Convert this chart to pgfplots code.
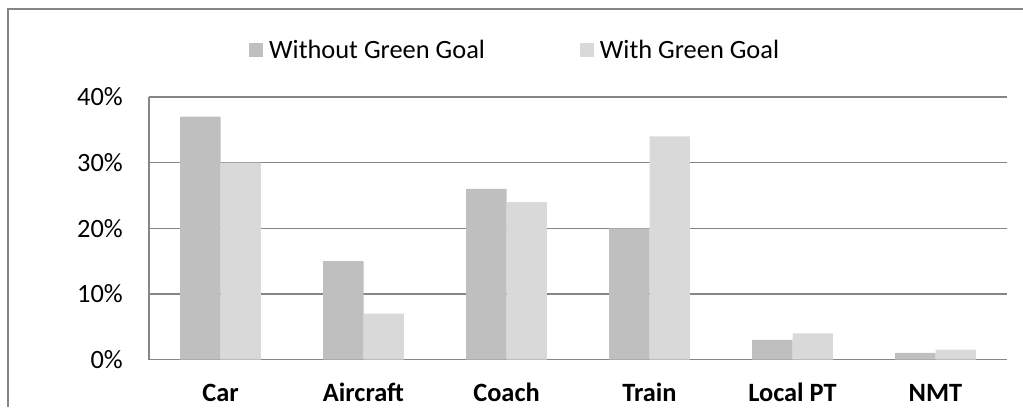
\documentclass[border=0pt]{standalone}
\usepackage{fontspec}
\setmainfont{Carlito}
\usepackage{pgfplots}
\pgfplotsset{compat=1.18}
\definecolor{barDark}{HTML}{BFBFBF}
\definecolor{barLight}{HTML}{D9D9D9}
\definecolor{gridGray}{HTML}{868686}

\begin{document}
\begin{tikzpicture}
\begin{axis}[
  scale only axis, width=858bp, height=262.5bp,
  xmin=-0.5, xmax=5.5, ymin=0, ymax=40,
  ybar, bar width=0.283,
  xtick={0,...,5}, xticklabels={Car,Aircraft,Coach,Train,Local PT,NMT},
  ytick={0,10,20,30,40}, yticklabels={0\%,10\%,20\%,30\%,40\%},
  major tick length=0pt,
  axis x line=bottom, axis y line=left,
  axis line style={-, draw=gridGray, line width=1.5bp},
  ymajorgrids, grid style={draw=gridGray, line width=1.5bp},
  tick label style={font=\fontsize{26.4bp}{30bp}\selectfont, text=black},
  xticklabel style={font=\fontsize{26.4bp}{30bp}\selectfont\bfseries, anchor=base, inner sep=0pt, yshift=-42bp},
  yticklabel style={anchor=east, inner sep=0pt, xshift=-26bp},
  legend columns=2,
  legend style={draw=none, fill=none, inner sep=0pt,
    at={(axis description cs:0.1166,1.179)}, anchor=west,
    font=\fontsize{26.4bp}{30bp}\selectfont,
    /tikz/every even column/.append style={column sep=93bp}},
  legend image code/.code={\fill[#1] (0bp,-7bp) rectangle (14bp,7bp); \path (18bp,0bp);},
]
% share of travel by mode, without and with the Green Goal programme
\addplot[fill=barDark, draw=none, bar shift=-0.1415]
  coordinates {(0,37) (1,15) (2,26) (3,20) (4,3) (5,1)};
\addplot[fill=barLight, draw=none, bar shift=0.1415]
  coordinates {(0,30) (1,7) (2,24) (3,34) (4,4) (5,1.5)};
\legend{Without Green Goal, With Green Goal}
\coordinate (tl) at (axis description cs:-0.17366,1.36952);
\coordinate (br) at (axis description cs:1.01865,-0.18095);
\coordinate (bx) at (axis description cs:-0.16434,1.33524);
\end{axis}
% chart frame
\draw[gridGray, line width=1.5bp] (bx |- br) -- (bx) -- (bx -| br);
\pgfresetboundingbox
\path[use as bounding box] (tl) rectangle (br);
\end{tikzpicture}
\end{document}
